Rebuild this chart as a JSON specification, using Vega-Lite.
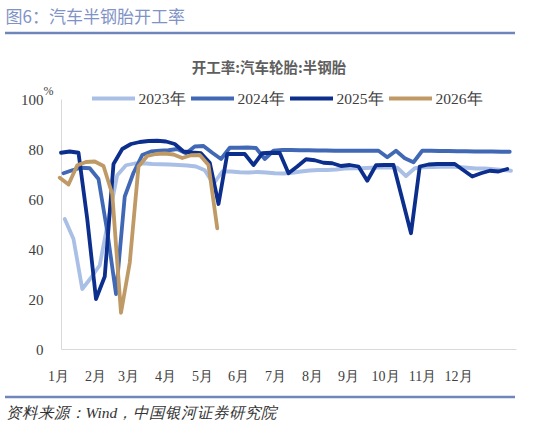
{
  "$schema": "https://vega.github.io/schema/vega-lite/v6.json",
  "width": 510,
  "height": 364,
  "autosize": {"type": "none"},
  "padding": {"left": 5, "top": 33, "right": 28, "bottom": 26},
  "background": "white",
  "config": {"view": {"stroke": null}, "font": "Liberation Serif"},
  "title": {
    "text": "开工率:汽车轮胎:半钢胎",
    "anchor": "middle",
    "frame": "group",
    "dx": 9,
    "dy": 68,
    "offset": 0,
    "font": "Noto Sans CJK SC",
    "fontSize": 14.5,
    "fontWeight": "bold",
    "color": "#5E5E5E"
  },
  "layer": [
    {
      "data": {
        "values": [
          {"year": "2023年", "day": 5, "rate": 52}, {"year": "2023年", "day": 12, "rate": 44}, {"year": "2023年", "day": 19, "rate": 24},
          {"year": "2023年", "day": 26, "rate": 28.5}, {"year": "2023年", "day": 33, "rate": 33.5}, {"year": "2023年", "day": 40, "rate": 52},
          {"year": "2023年", "day": 47, "rate": 69.5}, {"year": "2023年", "day": 54, "rate": 73.5}, {"year": "2023年", "day": 61, "rate": 74.2},
          {"year": "2023年", "day": 68, "rate": 74.3}, {"year": "2023年", "day": 75, "rate": 74}, {"year": "2023年", "day": 82, "rate": 73.9},
          {"year": "2023年", "day": 89, "rate": 73.8}, {"year": "2023年", "day": 96, "rate": 73.6}, {"year": "2023年", "day": 103, "rate": 73.4},
          {"year": "2023年", "day": 110, "rate": 73}, {"year": "2023年", "day": 117, "rate": 71.5}, {"year": "2023年", "day": 124, "rate": 66},
          {"year": "2023年", "day": 131, "rate": 71}, {"year": "2023年", "day": 138, "rate": 71}, {"year": "2023年", "day": 145, "rate": 70.7},
          {"year": "2023年", "day": 152, "rate": 70.6}, {"year": "2023年", "day": 159, "rate": 70.8}, {"year": "2023年", "day": 166, "rate": 70.6},
          {"year": "2023年", "day": 173, "rate": 70.3}, {"year": "2023年", "day": 180, "rate": 70.2}, {"year": "2023年", "day": 187, "rate": 70.5},
          {"year": "2023年", "day": 194, "rate": 71}, {"year": "2023年", "day": 201, "rate": 71.4}, {"year": "2023年", "day": 208, "rate": 71.6},
          {"year": "2023年", "day": 215, "rate": 71.6}, {"year": "2023年", "day": 222, "rate": 71.8}, {"year": "2023年", "day": 229, "rate": 72.2},
          {"year": "2023年", "day": 236, "rate": 72.3}, {"year": "2023年", "day": 243, "rate": 72.3}, {"year": "2023年", "day": 250, "rate": 72.5},
          {"year": "2023年", "day": 257, "rate": 72.6}, {"year": "2023年", "day": 264, "rate": 72.7}, {"year": "2023年", "day": 271, "rate": 72.5},
          {"year": "2023年", "day": 278, "rate": 69.2}, {"year": "2023年", "day": 285, "rate": 72.3}, {"year": "2023年", "day": 292, "rate": 72.7},
          {"year": "2023年", "day": 299, "rate": 72.8}, {"year": "2023年", "day": 306, "rate": 72.9}, {"year": "2023年", "day": 313, "rate": 73},
          {"year": "2023年", "day": 320, "rate": 72.8}, {"year": "2023年", "day": 327, "rate": 72.5}, {"year": "2023年", "day": 334, "rate": 72.2},
          {"year": "2023年", "day": 341, "rate": 72.2}, {"year": "2023年", "day": 348, "rate": 71.9}, {"year": "2023年", "day": 355, "rate": 71.6},
          {"year": "2023年", "day": 362, "rate": 71.3},

          {"year": "2024年", "day": 4, "rate": 70.3}, {"year": "2024年", "day": 11, "rate": 71.5}, {"year": "2024年", "day": 18, "rate": 72.5},
          {"year": "2024年", "day": 25, "rate": 72.3}, {"year": "2024年", "day": 32, "rate": 68}, {"year": "2024年", "day": 39, "rate": 47},
          {"year": "2024年", "day": 46, "rate": 22}, {"year": "2024年", "day": 53, "rate": 61}, {"year": "2024年", "day": 60, "rate": 70.5},
          {"year": "2024年", "day": 67, "rate": 77.6}, {"year": "2024年", "day": 74, "rate": 79}, {"year": "2024年", "day": 81, "rate": 79.3},
          {"year": "2024年", "day": 88, "rate": 79.5}, {"year": "2024年", "day": 95, "rate": 80}, {"year": "2024年", "day": 102, "rate": 78.3},
          {"year": "2024年", "day": 109, "rate": 81}, {"year": "2024年", "day": 116, "rate": 81.2}, {"year": "2024年", "day": 123, "rate": 78.5},
          {"year": "2024年", "day": 130, "rate": 76}, {"year": "2024年", "day": 137, "rate": 80.5}, {"year": "2024年", "day": 144, "rate": 80.5},
          {"year": "2024年", "day": 151, "rate": 80.6}, {"year": "2024年", "day": 158, "rate": 80.4}, {"year": "2024年", "day": 165, "rate": 76},
          {"year": "2024年", "day": 172, "rate": 79.3}, {"year": "2024年", "day": 179, "rate": 79.6}, {"year": "2024年", "day": 186, "rate": 79.6},
          {"year": "2024年", "day": 193, "rate": 79.5}, {"year": "2024年", "day": 200, "rate": 79.5}, {"year": "2024年", "day": 207, "rate": 79.4},
          {"year": "2024年", "day": 214, "rate": 79.4}, {"year": "2024年", "day": 221, "rate": 79.3}, {"year": "2024年", "day": 228, "rate": 79.3},
          {"year": "2024年", "day": 235, "rate": 79.3}, {"year": "2024年", "day": 242, "rate": 79.3}, {"year": "2024年", "day": 249, "rate": 79.3},
          {"year": "2024年", "day": 256, "rate": 79.3}, {"year": "2024年", "day": 263, "rate": 76.7}, {"year": "2024年", "day": 270, "rate": 79.3},
          {"year": "2024年", "day": 277, "rate": 76.3}, {"year": "2024年", "day": 284, "rate": 74.7}, {"year": "2024年", "day": 291, "rate": 79.3},
          {"year": "2024年", "day": 298, "rate": 79.3}, {"year": "2024年", "day": 305, "rate": 79.2}, {"year": "2024年", "day": 312, "rate": 79.2},
          {"year": "2024年", "day": 319, "rate": 79.1}, {"year": "2024年", "day": 326, "rate": 79.1}, {"year": "2024年", "day": 333, "rate": 79},
          {"year": "2024年", "day": 340, "rate": 79}, {"year": "2024年", "day": 347, "rate": 79}, {"year": "2024年", "day": 354, "rate": 78.9},
          {"year": "2024年", "day": 361, "rate": 78.9},

          {"year": "2025年", "day": 2, "rate": 78.5}, {"year": "2025年", "day": 9, "rate": 79}, {"year": "2025年", "day": 16, "rate": 78.5},
          {"year": "2025年", "day": 23, "rate": 52}, {"year": "2025年", "day": 30, "rate": 20}, {"year": "2025年", "day": 37, "rate": 29},
          {"year": "2025年", "day": 44, "rate": 74}, {"year": "2025年", "day": 51, "rate": 80}, {"year": "2025年", "day": 58, "rate": 82},
          {"year": "2025年", "day": 65, "rate": 82.8}, {"year": "2025年", "day": 72, "rate": 83.2}, {"year": "2025年", "day": 79, "rate": 83.3},
          {"year": "2025年", "day": 86, "rate": 83}, {"year": "2025年", "day": 93, "rate": 82}, {"year": "2025年", "day": 100, "rate": 79},
          {"year": "2025年", "day": 107, "rate": 78.6}, {"year": "2025年", "day": 114, "rate": 78.3}, {"year": "2025年", "day": 121, "rate": 74.5},
          {"year": "2025年", "day": 128, "rate": 58}, {"year": "2025年", "day": 135, "rate": 78}, {"year": "2025年", "day": 142, "rate": 78},
          {"year": "2025年", "day": 149, "rate": 78}, {"year": "2025年", "day": 156, "rate": 73.6}, {"year": "2025年", "day": 163, "rate": 78.3},
          {"year": "2025年", "day": 170, "rate": 78.5}, {"year": "2025年", "day": 177, "rate": 78.4}, {"year": "2025年", "day": 184, "rate": 70.3},
          {"year": "2025年", "day": 191, "rate": 73}, {"year": "2025年", "day": 198, "rate": 75.9}, {"year": "2025年", "day": 205, "rate": 75.5},
          {"year": "2025年", "day": 212, "rate": 74.5}, {"year": "2025年", "day": 219, "rate": 74.3}, {"year": "2025年", "day": 226, "rate": 73.2},
          {"year": "2025年", "day": 233, "rate": 73.6}, {"year": "2025年", "day": 240, "rate": 73}, {"year": "2025年", "day": 247, "rate": 67.3},
          {"year": "2025年", "day": 254, "rate": 73.5}, {"year": "2025年", "day": 261, "rate": 73.6}, {"year": "2025年", "day": 268, "rate": 73.6},
          {"year": "2025年", "day": 275, "rate": 60}, {"year": "2025年", "day": 282, "rate": 46.3}, {"year": "2025年", "day": 289, "rate": 73},
          {"year": "2025年", "day": 296, "rate": 73.8}, {"year": "2025年", "day": 303, "rate": 74}, {"year": "2025年", "day": 310, "rate": 74},
          {"year": "2025年", "day": 317, "rate": 74}, {"year": "2025年", "day": 324, "rate": 71.5}, {"year": "2025年", "day": 331, "rate": 69},
          {"year": "2025年", "day": 338, "rate": 70.3}, {"year": "2025年", "day": 345, "rate": 71.3}, {"year": "2025年", "day": 352, "rate": 71},
          {"year": "2025年", "day": 359, "rate": 72},

          {"year": "2026年", "day": 1, "rate": 68.5}, {"year": "2026年", "day": 8, "rate": 65.8}, {"year": "2026年", "day": 15, "rate": 73.5},
          {"year": "2026年", "day": 22, "rate": 74.8}, {"year": "2026年", "day": 29, "rate": 75}, {"year": "2026年", "day": 36, "rate": 73.2},
          {"year": "2026年", "day": 43, "rate": 62}, {"year": "2026年", "day": 50, "rate": 14.5}, {"year": "2026年", "day": 57, "rate": 34.5},
          {"year": "2026年", "day": 64, "rate": 73}, {"year": "2026年", "day": 71, "rate": 77.2}, {"year": "2026年", "day": 78, "rate": 78},
          {"year": "2026年", "day": 85, "rate": 78.2}, {"year": "2026年", "day": 92, "rate": 77.8}, {"year": "2026年", "day": 99, "rate": 76.4},
          {"year": "2026年", "day": 106, "rate": 77.5}, {"year": "2026年", "day": 113, "rate": 77.6}, {"year": "2026年", "day": 120, "rate": 73.6},
          {"year": "2026年", "day": 127, "rate": 48.3}
        ]
      },
      "mark": {"type": "line", "strokeWidth": 3.8, "strokeCap": "round", "strokeJoin": "round"},
      "encoding": {
        "x": {
          "field": "day",
          "type": "quantitative",
          "scale": {"domain": [2, 366], "range": [56, 511], "nice": false, "zero": false},
          "axis": {
            "orient": "bottom",
            "offset": -48,
            "values": [2.8, 32.4, 58.8, 88.4, 118, 146.8, 176.4, 206, 234.8, 264.4, 294, 322.8],
            "labelExpr": "(round((datum.value - 2.8) / 29.6) + 1) + '月'",
            "labelOffset": -4,
            "labelFlush": false,
            "labelOverlap": false,
            "labelFontSize": 14,
            "labelColor": "#404040",
            "labelPadding": 20,
            "ticks": false,
            "tickSize": 0,
            "grid": false,
            "domainColor": "#D9D9D9",
            "domainWidth": 1,
            "title": "资料来源：Wind，中国银河证券研究院",
            "titleX": 0,
            "titleY": 63,
            "titleAlign": "left",
            "titleBaseline": "middle",
            "titleFont": "Liberation Serif",
            "titleFontStyle": "italic",
            "titleFontWeight": "normal",
            "titleFontSize": 15.5,
            "titleColor": "#333333"
          }
        },
        "y": {
          "field": "rate",
          "type": "quantitative",
          "scale": {"domain": [0, 100], "range": [316, 66], "nice": false},
          "axis": {
            "orient": "left",
            "offset": -56,
            "values": [0, 20, 40, 60, 80, 100],
            "ticks": false,
            "tickSize": 0,
            "grid": false,
            "domainColor": "#D9D9D9",
            "domainWidth": 1,
            "labelFontSize": 15,
            "labelColor": "#404040",
            "labelPadding": 18,
            "title": "%",
            "titleAngle": 0,
            "titleX": -13,
            "titleY": 57,
            "titleAlign": "center",
            "titleBaseline": "middle",
            "titleFontSize": 12,
            "titleFontWeight": "normal",
            "titleColor": "#404040"
          }
        },
        "color": {
          "field": "year",
          "type": "nominal",
          "scale": {
            "domain": ["2023年", "2024年", "2025年", "2026年"],
            "range": ["#A9BFE6", "#4068B5", "#0C2E8C", "#BF9A66"]
          },
          "legend": {
            "orient": "none",
            "legendX": 85,
            "legendY": 42,
            "direction": "horizontal",
            "title": null,
            "symbolType": "stroke",
            "symbolSize": 1849,
            "symbolStrokeWidth": 4,
            "labelFont": "Liberation Serif",
            "labelFontSize": 15.5,
            "labelColor": "#404040",
            "labelOffset": 1.5,
            "columnPadding": -3
          }
        }
      }
    },
    {
      "data": {"values": [{}]},
      "layer": [
        {
          "mark": {"type": "rule", "color": "#6F86BA", "strokeWidth": 2.5},
          "encoding": {
            "y": {
              "datum": 1,
              "type": "quantitative",
              "scale": {"domain": [0, 1], "nice": false},
              "axis": {
                "orient": "right",
                "labels": false,
                "ticks": false,
                "domain": false,
                "grid": false,
                "title": "图6：汽车半钢胎开工率",
                "titleAngle": 0,
                "titleX": -510,
                "titleY": -16,
                "titleAlign": "left",
                "titleBaseline": "middle",
                "titleFont": "Noto Sans CJK SC",
                "titleFontSize": 17,
                "titleFontWeight": "normal",
                "titleColor": "#7F93C6"
              }
            }
          }
        },
        {
          "mark": {"type": "rule", "color": "#6F86BA", "strokeWidth": 2.5},
          "encoding": {"y": {"datum": 0, "type": "quantitative"}}
        }
      ]
    }
  ],
  "resolve": {"scale": {"y": "independent"}, "axis": {"y": "independent"}}
}
